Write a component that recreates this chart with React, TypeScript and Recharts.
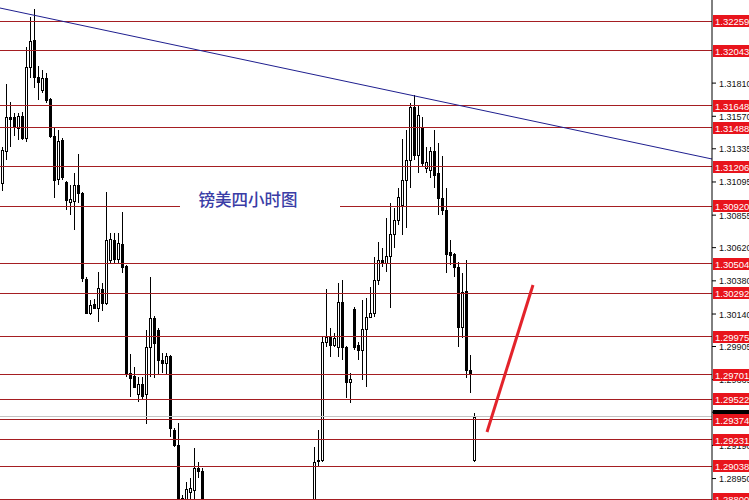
import {
  Bar,
  ComposedChart,
  ReferenceDot,
  ReferenceLine,
  XAxis,
  YAxis,
} from "recharts";

// GBP/USD H4 candles, one slot per bar; null where the bar is below the visible range
const openPrices = [
  1.31088, 1.31319, 1.31565, 1.31565, 1.31486, 1.31572, 1.31413, 1.31927, 1.32122, 1.31854,
  1.3176, 1.31847, 1.31695, 1.31428, 1.31117, 1.31399, 1.31095, 1.30951, 1.30958, 1.31073,
  1.31016, 1.30394, 1.30148, 1.30213, 1.30184, 1.30322, 1.3022, 1.30531, 1.30676, 1.30538,
  1.30647, 1.30488, 1.29714, 1.29693, 1.29562, 1.29635, 1.29562, 1.29902, 1.30112, 1.30025,
  1.29808, 1.29787, 1.29837, 1.29302, 1.29194, 1.2881, 1.28688, 1.28854, 1.28868, 1.29027,
  1.29006, null, null, null, null, null, null, null, null, null,
  null, null, null, null, null, null, null, null, null, null,
  null, null, null, null, null, null, null, null, 1.28724, 1.29078,
  1.29085, 1.29938, 1.29974, 1.29917, 1.29902, 1.30228, 1.29902, 1.29649, 1.30177, 1.29917,
  1.2988, 1.30032, 1.30119, 1.30148, 1.30387, 1.30531, 1.3051, 1.3056, 1.30719, 1.3082,
  1.30929, 1.3111, 1.31254, 1.31637, 1.3129, 1.31493, 1.31196, 1.31182, 1.31319, 1.3116,
  1.30979, 1.30893, 1.30589, 1.30575, 1.30481, 1.30047, 1.30307, 1.29736, 1.29085,
];
const highPrices = [
  1.31348, 1.31804, 1.31674, 1.31594, 1.31594, 1.31601, 1.32071, 1.32288, 1.32346, 1.31934,
  1.31905, 1.31883, 1.31702, 1.31486, 1.31471, 1.31413, 1.31102, 1.31073, 1.3116, 1.31298,
  1.31023, 1.30408, 1.30242, 1.30249, 1.30444, 1.30365, 1.31023, 1.30726, 1.30726, 1.30726,
  1.30878, 1.30495, 1.29852, 1.29758, 1.29685, 1.29685, 1.30025, 1.30408, 1.30126, 1.3004,
  1.29859, 1.29859, 1.29844, 1.29317, 1.29353, 1.28832, 1.28926, 1.28955, 1.29172, 1.29071,
  1.29027, null, null, null, null, null, null, null, null, null,
  null, null, null, null, null, null, null, null, null, null,
  null, null, null, null, null, null, null, null, 1.29179, 1.29302,
  1.29974, 1.30322, 1.3004, 1.30003, 1.30365, 1.30387, 1.29909, 1.29714, 1.30191, 1.29938,
  1.30242, 1.30256, 1.30336, 1.30553, 1.30661, 1.30618, 1.30835, 1.30943, 1.30907, 1.31052,
  1.31406, 1.31471, 1.31666, 1.31724, 1.31652, 1.31565, 1.31348, 1.31348, 1.31471, 1.31377,
  1.31283, 1.31052, 1.30676, 1.30582, 1.30517, 1.30437, 1.30531, 1.29844, 1.29425,
];
const lowPrices = [
  1.3103, 1.31254, 1.31348, 1.31428, 1.31399, 1.31399, 1.31384, 1.31847, 1.31775, 1.31688,
  1.31739, 1.31666, 1.31413, 1.30979, 1.31073, 1.3111, 1.30893, 1.30857, 1.30748, 1.30943,
  1.30372, 1.30141, 1.30134, 1.30177, 1.30083, 1.30162, 1.30206, 1.3051, 1.3051, 1.3051,
  1.30437, 1.29685, 1.29541, 1.29606, 1.29505, 1.29519, 1.29345, 1.29685, 1.29678, 1.29707,
  1.29714, 1.29707, 1.29251, 1.29179, 1.28651, 1.28579, 1.28651, 1.2876, 1.28796, 1.28955,
  1.28688, null, null, null, null, null, null, null, null, null,
  null, null, null, null, null, null, null, null, null, null,
  null, null, null, null, null, null, null, null, 1.28688, 1.29035,
  1.29071, 1.29902, 1.2983, 1.29902, 1.2983, 1.29808, 1.29533, 1.29497, 1.2988, 1.29808,
  1.29664, 1.29613, 1.30112, 1.30119, 1.3035, 1.30481, 1.30444, 1.30184, 1.30618, 1.30784,
  1.30712, 1.30763, 1.31052, 1.31254, 1.3116, 1.31204, 1.3116, 1.31124, 1.31052, 1.30857,
  1.30857, 1.30437, 1.30495, 1.30408, 1.29902, 1.29967, 1.29678, 1.2957, 1.29071,
];
const closePrices = [
  1.31326, 1.31565, 1.31551, 1.31493, 1.31572, 1.31413, 1.31927, 1.32115, 1.31854, 1.31818,
  1.31847, 1.31688, 1.31428, 1.3111, 1.31392, 1.31131, 1.30965, 1.30972, 1.31073, 1.31016,
  1.30401, 1.30148, 1.30206, 1.30184, 1.30329, 1.3022, 1.30676, 1.30683, 1.30538, 1.30654,
  1.30481, 1.29707, 1.29678, 1.29613, 1.29635, 1.29548, 1.29902, 1.30112, 1.29931, 1.29808,
  1.29787, 1.29837, 1.29317, 1.29194, 1.28724, 1.28615, 1.28876, 1.28883, 1.29027, 1.29006,
  1.28724, null, null, null, null, null, null, null, null, null,
  null, null, null, null, null, null, null, null, null, null,
  null, null, null, null, null, null, null, null, 1.29071, 1.29085,
  1.29938, 1.29974, 1.29917, 1.29967, 1.30228, 1.29902, 1.29649, 1.29671, 1.29902, 1.2988,
  1.30032, 1.30119, 1.30148, 1.30387, 1.30531, 1.3051, 1.3056, 1.30719, 1.3082, 1.30987,
  1.3111, 1.31254, 1.31637, 1.3129, 1.3158, 1.31233, 1.3124, 1.31319, 1.31146, 1.30979,
  1.30893, 1.30575, 1.30567, 1.30481, 1.30047, 1.303, 1.29736, 1.29707, 1.29396,
];

// horizontal support / resistance levels (red labels on the price scale)
const levels = [
  1.32259, 1.32043, 1.31648, 1.31488, 1.31206, 1.3092, 1.30504, 1.30292, 1.29975,
  1.29701, 1.29522, 1.29374, 1.29231, 1.29038, 1.288,
];
const scaleTicks = [
  1.3181, 1.3157, 1.31335, 1.31095, 1.30855, 1.3062, 1.3038, 1.3014, 1.29905, 1.29665,
  1.2943, 1.2919, 1.2895,
];
const bidPrice = 1.294;
const slots = 178;
const splitLevel = 1.3092;
const title = "镑美四小时图";

// trend line and the drawn red arrow, as [slot, price] pairs
const trendLine = [
  [-0.5, 1.32353],
  [177.5, 1.31261],
];
const arrowLine = [
  [121.25, 1.29287],
  [132.75, 1.3035],
];

const data = Array.from({ length: slots }, (_, i) => ({
  i,
  o: openPrices[i] ?? null,
  h: highPrices[i] ?? null,
  l: lowPrices[i] ?? null,
  c: closePrices[i] ?? null,
  range:
    highPrices[i] == null ? null : [lowPrices[i] as number, highPrices[i] as number],
}));

const LEVEL_RED = "#a51e22";

function Candle(props: any) {
  const { x, y, width, height, payload } = props;
  if (!payload || payload.o == null || height == null) return null;
  const { o, h, l, c } = payload;
  const k = height / (h - l);
  const yo = y + (h - o) * k;
  const yc = y + (h - c) * k;
  const top = Math.round(Math.min(yo, yc)) + 0.5;
  const bh = Math.max(Math.round(Math.abs(yo - yc)), 1);
  const cx = Math.round(x + width / 2) + 0.5;
  const bull = c > o;
  return (
    <g>
      <line
        x1={cx}
        x2={cx}
        y1={Math.round(y)}
        y2={Math.round(y + height)}
        stroke="#000"
        strokeWidth={1}
      />
      {bull ? (
        <rect
          x={cx - 1}
          y={top}
          width={2}
          height={bh}
          fill="#fff"
          stroke="#000"
          strokeWidth={1}
        />
      ) : (
        <rect x={cx - 1.5} y={top - 0.5} width={3} height={bh + 1} fill="#000" />
      )}
    </g>
  );
}

function PriceTick(props: any) {
  const { x, y, payload } = props;
  const v = payload.value as number;
  const txt = v.toFixed(5);
  if (levels.includes(v) || v === bidPrice) {
    return (
      <g>
        <rect
          x={x + 1}
          y={Math.round(y) - 6}
          width={40}
          height={12}
          fill={v === bidPrice ? "#000" : "#e8141c"}
        />
        <text
          x={x + 3}
          y={y + 0.5}
          fill="#fff"
          fontSize={9.5}
          fontFamily="Liberation Sans, Arial, sans-serif"
          dominantBaseline="central"
        >
          {txt}
        </text>
      </g>
    );
  }
  return (
    <g>
      <line x1={x} x2={x + 4} y1={y} y2={y} stroke="#000" />
      <text
        x={x + 7}
        y={y + 0.5}
        fill="#111"
        fontSize={9}
        fontFamily="Liberation Sans, Arial, sans-serif"
        dominantBaseline="central"
      >
        {txt}
      </text>
    </g>
  );
}

export default function App() {
  return (
    <div
      style={{
        position: "absolute",
        left: 0,
        top: 0,
        width: 749,
        height: 500,
        background: "#fff",
      }}
    >
      <ComposedChart
        width={749}
        height={500}
        data={data}
        margin={{ top: 0, right: 0, left: 0, bottom: 0 }}
      >
        <XAxis
          dataKey="i"
          type="number"
          domain={[-0.5, slots - 0.5]}
          allowDataOverflow
          hide
        />
        <YAxis
          orientation="right"
          width={37}
          type="number"
          domain={[1.28795, 1.32411]}
          allowDataOverflow
          ticks={[...scaleTicks, bidPrice, ...levels]}
          interval={0}
          tickLine={false}
          tickSize={0}
          tickMargin={0}
          axisLine={{ stroke: "#000" }}
          tick={<PriceTick />}
        />
        <ReferenceLine y={bidPrice} stroke="#c4c4c4" shapeRendering="crispEdges" />
        {levels
          .filter((p) => p !== splitLevel)
          .map((p) => (
            <ReferenceLine
              key={p}
              y={p}
              stroke={LEVEL_RED}
              shapeRendering="crispEdges"
            />
          ))}
        <ReferenceLine
          segment={[
            { x: -0.5, y: splitLevel },
            { x: 44.5, y: splitLevel },
          ]}
          stroke={LEVEL_RED}
          shapeRendering="crispEdges"
        />
        <ReferenceLine
          segment={[
            { x: 84.5, y: splitLevel },
            { x: slots - 0.5, y: splitLevel },
          ]}
          stroke={LEVEL_RED}
          shapeRendering="crispEdges"
        />
        <Bar
          dataKey="range"
          barSize={3}
          shape={<Candle />}
          isAnimationActive={false}
        />
        <ReferenceLine
          segment={trendLine.map(([x, y]) => ({ x, y }))}
          stroke="#1f1f8f"
          strokeWidth={1}
        />
        <ReferenceLine
          segment={arrowLine.map(([x, y]) => ({ x, y }))}
          stroke="#e3232b"
          strokeWidth={3}
        />
        <ReferenceDot
          x={61.5}
          y={1.30965}
          r={1}
          fill="none"
          stroke="none"
          label={{
            value: title,
            position: "center",
            fill: "#3a3da6",
            fontSize: 16.5,
            fontWeight: 500,
            fontFamily: "Noto Sans CJK SC",
          }}
        />
      </ComposedChart>
    </div>
  );
}
